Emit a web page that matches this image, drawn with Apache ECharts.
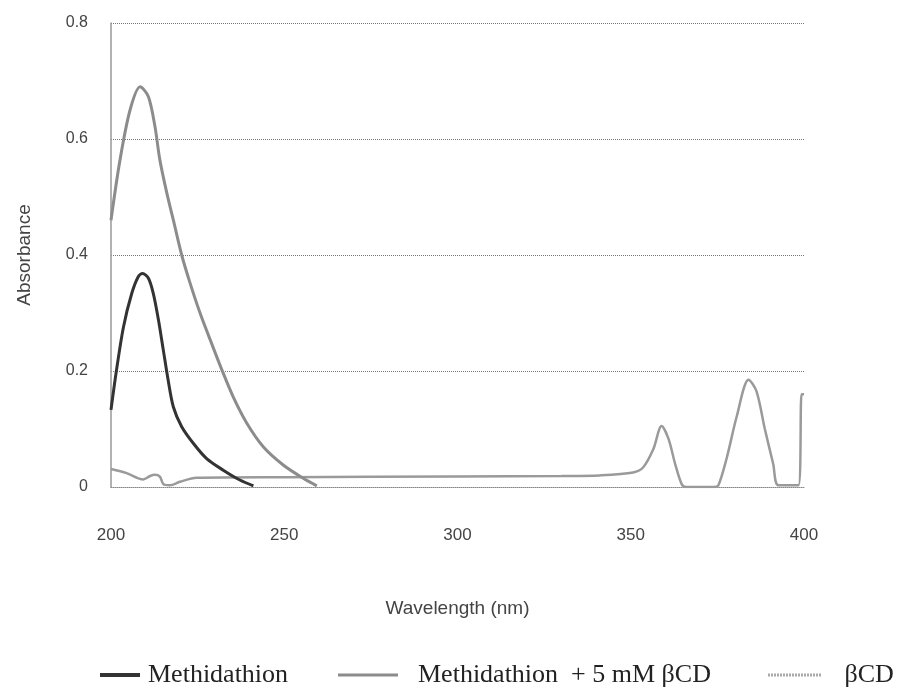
<!DOCTYPE html>
<html>
<head>
<meta charset="utf-8">
<script src="https://cdn.jsdelivr.net/npm/echarts@6/dist/echarts.min.js"></script>
<style>
html,body{margin:0;padding:0;background:#fff;}
#chart{width:899px;height:688px;}
</style>
</head>
<body>
<div id="chart"></div>
<script>
// Series names
const seriesNames = ['Methidathion', 'Methidathion  + 5 mM \u03B2CD', '\u03B2CD'];

// Methidathion (dark)
const methX = [200, 201.6, 203.6, 206, 207.9, 209.1, 210.8, 212.2, 213.7, 215.1, 216.5, 218, 220.4, 223.8, 227.6, 232.4, 237.2, 241.1];
const methY = [0.133, 0.202, 0.276, 0.334, 0.363, 0.368, 0.36, 0.334, 0.288, 0.236, 0.184, 0.138, 0.104, 0.075, 0.049, 0.029, 0.012, 0.002];

// Methidathion + 5 mM βCD (medium gray)
const methCdX = [200, 202.6, 205.5, 208.4, 210.8, 212.7, 214.1, 216.1, 218, 220.4, 222.8, 225.7, 229, 232, 235.3, 239.2, 244, 249.7, 255.5, 259.4];
const methCdY = [0.46, 0.564, 0.65, 0.69, 0.673, 0.621, 0.564, 0.507, 0.46, 0.40, 0.352, 0.30, 0.248, 0.202, 0.155, 0.11, 0.069, 0.038, 0.015, 0.002];

// βCD (light gray)
const cdX = [200, 204.5, 209.3, 211.3, 212.7, 214.1, 215.1, 217, 219.9, 224.7, 250, 300, 330, 341, 350.7, 353.6, 356.5, 358.9, 360.9, 362.8, 364.7, 366, 374, 375.3, 377.7, 380.6, 384, 386.3, 388.7, 391.1, 392.6, 398.4, 399.3, 400];
const cdY = [0.031, 0.024, 0.013, 0.019, 0.021, 0.018, 0.005, 0.003, 0.009, 0.016, 0.017, 0.018, 0.019, 0.02, 0.025, 0.034, 0.065, 0.105, 0.083, 0.04, 0.005, 0, 0, 0.003, 0.05, 0.122, 0.185, 0.165, 0.1, 0.04, 0.003, 0.003, 0.16, 0.16];

// Axis ticks
const xTicks = [200, 250, 300, 350, 400];
const yTicks = [0, 0.2, 0.4, 0.6, 0.8];

const pairs = (xs, ys) => xs.map((x, i) => [x, ys[i]]);

// dotted legend icon path (small dashes)
let dashPath = 'path://';
for (let i = 0; i < 18; i++) { dashPath += 'M' + (i * 3) + ',0h2v3h-2z'; }

const chart = echarts.init(document.getElementById('chart'), null, {renderer: 'canvas'});

const legendText = {fontFamily: 'Liberation Serif', fontSize: 26, color: '#222'};

chart.setOption({
  backgroundColor: '#ffffff',
  animation: false,
  grid: {left: 111, right: 95, top: 23, bottom: 201, containLabel: false},
  xAxis: {
    type: 'value',
    min: xTicks[0], max: xTicks[xTicks.length - 1], interval: 50,
    name: 'Wavelength (nm)',
    nameLocation: 'middle',
    nameGap: 112,
    nameTextStyle: {fontFamily: 'Liberation Sans', fontSize: 19, color: '#444'},
    axisLine: {show: true, lineStyle: {color: '#888', type: 'dotted', width: 1}},
    axisTick: {show: false},
    splitLine: {show: false},
    axisLabel: {margin: 40, fontFamily: 'Liberation Sans', fontSize: 17, color: '#444'}
  },
  yAxis: {
    type: 'value',
    min: yTicks[0], max: yTicks[yTicks.length - 1], interval: 0.2,
    name: 'Absorbance',
    nameLocation: 'middle',
    nameRotate: 90,
    nameGap: 77,
    nameTextStyle: {fontFamily: 'Liberation Sans', fontSize: 19, color: '#444'},
    axisLine: {show: true, lineStyle: {color: '#999', width: 1.5}},
    axisTick: {show: false},
    splitLine: {show: true, lineStyle: {color: '#777', type: 'dotted', width: 1}},
    axisLabel: {margin: 23, fontFamily: 'Liberation Sans', fontSize: 16, color: '#444',
      formatter: v => (v === 0 ? '0' : v.toFixed(1))}
  },
  legend: [
    {data: [{name: seriesNames[0], icon: 'rect'}], left: 100, top: 662, padding: 0, itemWidth: 40, itemHeight: 4,
     textStyle: Object.assign({padding: [14, 0, 0, 3]}, legendText)},
    {data: [{name: seriesNames[1], icon: 'rect'}], left: 338, top: 662, padding: 0, itemWidth: 60, itemHeight: 3,
     textStyle: Object.assign({padding: [14, 0, 0, 15]}, legendText)},
    {data: [{name: seriesNames[2], icon: dashPath, itemStyle: {color: '#aaa'}}], left: 768, top: 662, padding: 0, itemWidth: 54, itemHeight: 3,
     textStyle: Object.assign({padding: [14, 0, 0, 18]}, legendText)}
  ],
  series: [
    {name: seriesNames[2], type: 'line', symbol: 'none', smooth: 0.3, z: 1,
     data: pairs(cdX, cdY), color: '#9a9a9a', lineStyle: {color: '#9a9a9a', width: 2.5}},
    {name: seriesNames[1], type: 'line', symbol: 'none', smooth: 0.3, z: 2,
     data: pairs(methCdX, methCdY), color: '#8c8c8c', lineStyle: {color: '#8c8c8c', width: 3}},
    {name: seriesNames[0], type: 'line', symbol: 'none', smooth: 0.3, z: 3,
     data: pairs(methX, methY), color: '#333', lineStyle: {color: '#333', width: 3}}
  ]
});
</script>
</body>
</html>
